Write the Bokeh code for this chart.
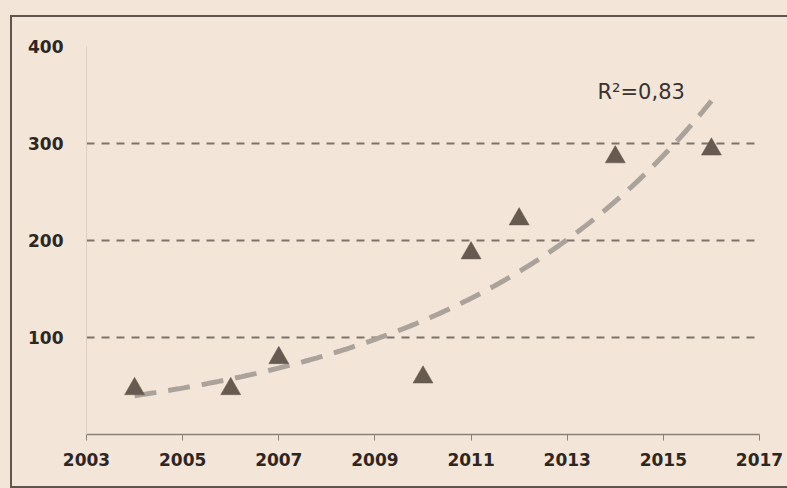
import numpy as np
from bokeh.plotting import figure
from bokeh.models import FixedTicker, Label, Range1d
from bokeh.layouts import column
from bokeh.embed import file_html
from bokeh.resources import INLINE

# Observed values per year
years = [2004, 2006, 2007, 2010, 2011, 2012, 2014, 2016]
values = [47, 47, 79, 59, 187, 222, 286, 294]

# Axis ticks
x_ticks = [2003, 2005, 2007, 2009, 2011, 2013, 2015, 2017]
y_ticks = [100, 200, 300, 400]
r2_text = "R²=0,83"

BG = "#f3e6d8"
INK = "#2e2622"
FRAME = "2px solid #5f5650"

# Exponential trend, fitted as a straight line in log space
x0 = years[0]
slope, intercept = np.polyfit(np.array(years) - x0, np.log(values), 1)
trend_x = np.linspace(min(years), max(years), 200)
trend_y = np.exp(intercept + slope * (trend_x - x0))

p = figure(
    width=775, height=469,
    x_range=Range1d(2003, 2017), y_range=Range1d(0, 400),
    output_backend="svg", toolbar_location=None,
    min_border_left=74, min_border_right=28,
    min_border_top=29, min_border_bottom=52,
    background_fill_color=BG, border_fill_color=BG,
    outline_line_color=None,
)

# Grid: dashed horizontal lines only
p.xgrid.grid_line_color = None
p.ygrid.ticker = FixedTicker(ticks=y_ticks)
p.ygrid.grid_line_color = "#7d736a"
p.ygrid.grid_line_width = 2
p.ygrid.grid_line_dash = "8 7"

# X axis
xa = p.xaxis[0]
xa.ticker = FixedTicker(ticks=x_ticks)
xa.axis_line_color = "#8a8179"
xa.axis_line_width = 1.5
xa.major_tick_line_color = "#8a8179"
xa.major_tick_out = 6
xa.major_tick_in = 0
xa.minor_tick_line_color = None
xa.major_label_standoff = 12
xa.major_label_text_font = "DejaVu Sans"
xa.major_label_text_font_style = "bold"
xa.major_label_text_font_size = "17px"
xa.major_label_text_color = INK

# Y axis
ya = p.yaxis[0]
ya.ticker = FixedTicker(ticks=y_ticks)
ya.axis_line_color = "#ddd0c1"
ya.axis_line_width = 1
ya.major_tick_line_color = None
ya.minor_tick_line_color = None
ya.major_label_standoff = 17
ya.major_label_text_font = "DejaVu Sans"
ya.major_label_text_font_style = "bold"
ya.major_label_text_font_size = "17px"
ya.major_label_text_color = INK

# Trend line
p.line(trend_x, trend_y, line_color="#aba39b", line_width=5,
       line_dash="22 12", line_cap="butt")

# Data points
p.scatter(years, values, marker="triangle", size=20,
          fill_color="#675a50", line_color="#675a50", line_width=0.5)

# Goodness of fit
p.add_layout(Label(
    x=2013.63, y=352.6, text=r2_text,
    text_font="DejaVu Sans", text_font_size="21px",
    text_color="#3b3330", text_baseline="alphabetic",
))

# Frame drawn on three sides around the chart
framed = column(p, styles={
    "border-top": FRAME,
    "border-left": FRAME,
    "border-bottom": FRAME,
    "border-right": "0px none transparent",
})

page = column(framed, styles={
    "background-color": BG,
    "padding-left": "10px",
    "padding-top": "15px",
    "width": "800px",
    "height": "488px",
    "box-sizing": "border-box",
    "overflow": "hidden",
})

open("out.html", "w").write(file_html(page, INLINE))
